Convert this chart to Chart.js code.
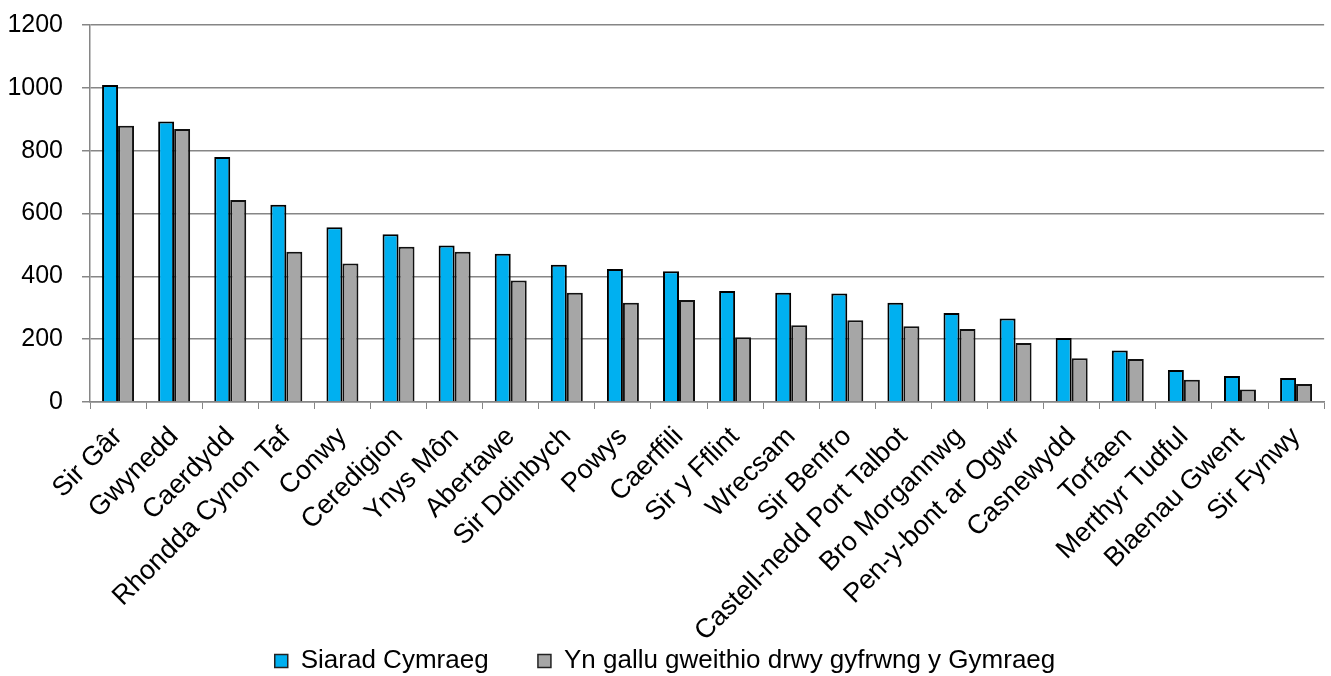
<!DOCTYPE html>
<html>
<head>
<meta charset="utf-8">
<script src="https://cdn.jsdelivr.net/npm/chart.js@4.4.1/dist/chart.umd.min.js"></script>
<style>
  html, body { margin: 0; padding: 0; background: #ffffff; }
  #wrap { position: relative; width: 1331px; height: 676px; }
</style>
</head>
<body>
<div id="wrap"><canvas id="canvas"></canvas></div>
<script>
"use strict";

const areas = [
  "Sir Gâr", "Gwynedd", "Caerdydd", "Rhondda Cynon Taf", "Conwy", "Ceredigion",
  "Ynys Môn", "Abertawe", "Sir Ddinbych", "Powys", "Caerffili", "Sir y Fflint",
  "Wrecsam", "Sir Benfro", "Castell-nedd Port Talbot", "Bro Morgannwg",
  "Pen-y-bont ar Ogwr", "Casnewydd", "Torfaen", "Merthyr Tudful",
  "Blaenau Gwent", "Sir Fynwy",
];
const siaradCymraeg = [
  1009, 893, 780, 628, 556, 534, 498, 472, 437, 423, 416, 353,
  348, 345, 316, 283, 266, 204, 164, 102, 83, 76,
];
const gallu_gweithio = [
  879, 869, 643, 478, 441, 494, 478, 387, 348, 316, 325, 206,
  244, 260, 241, 232, 188, 139, 137, 71, 40, 57,
];
const series_labels = [
  "Siarad Cymraeg",
  "Yn gallu gweithio drwy gyfrwng y Gymraeg",
];
const y_min = 0;
const y_max = 1200;
const y_step = 200;

const ctx = document.getElementById("canvas").getContext("2d");
const font_family = "'Liberation Sans', Arial, sans-serif";
const axis_grey = "#868686";

// pull the legend a bit closer to the bottom edge
const shortLegend = {
  id: "shortLegend",
  afterInit: (chart) => {
    const legend = chart.legend;
    if (!legend) {
      return;
    }
    const origFit = legend.fit.bind(legend);
    legend.fit = function () {
      origFit();
      this.height -= 8;
    };
  },
};

const chart = new Chart(ctx, {
  type: "bar",
  data: {
    labels: areas,
    datasets: [
      {
        label: series_labels[0],
        data: siaradCymraeg,
        backgroundColor: "#00b0f0",
        borderColor: "#000000",
        borderWidth: 2,
      },
      {
        label: series_labels[1],
        data: gallu_gweithio,
        backgroundColor: "#a6a6a6",
        borderColor: "#111111",
        borderWidth: 2,
      },
    ],
  },
  plugins: [shortLegend],
  options: {
    responsive: true,
    maintainAspectRatio: false,
    animation: false,
    devicePixelRatio: 1,
    layout: {
      padding: { top: 0, right: 1, left: 0, bottom: 0 },
    },
    datasets: {
      bar: {
        categoryPercentage: 0.57,
        barPercentage: 1.0,
      },
    },
    plugins: {
      tooltip: { enabled: false },
      legend: {
        position: "bottom",
        labels: {
          color: "#000000",
          font: { family: font_family, size: 26 },
          boxWidth: 13,
          boxHeight: 13,
          padding: 6,
          generateLabels: (chart) => {
            const items = Chart.defaults.plugins.legend.labels.generateLabels(chart);
            // wider gap after the first entry, like the original legend
            items[0].text = items[0].text + "      ";
            items.forEach((it) => {
              it.lineWidth = 1.5;
              it.strokeStyle = "#222222";
            });
            return items;
          },
        },
      },
    },
    scales: {
      x: {
        grid: {
          display: true,
          drawOnChartArea: false,
          drawTicks: true,
          tickLength: 7,
          color: axis_grey,
          offset: true,
        },
        border: { color: axis_grey, width: 1.5 },
        ticks: {
          color: "#000000",
          font: { family: font_family, size: 27 },
          minRotation: 45,
          maxRotation: 45,
          autoSkip: false,
          padding: 12,
        },
        afterFit: (scale) => {
          scale.height = 240;
        },
      },
      y: {
        min: y_min,
        max: y_max,
        grid: {
          color: axis_grey,
          lineWidth: 1.5,
          tickLength: 8,
        },
        border: { color: axis_grey, width: 1.5 },
        ticks: {
          stepSize: y_step,
          color: "#000000",
          font: { family: font_family, size: 25 },
          padding: 19,
          callback: (value) => String(value),
        },
        afterFit: (scale) => {
          scale.width = 90;
          scale.paddingTop = 25;
        },
      },
    },
  },
});
</script>
</body>
</html>
